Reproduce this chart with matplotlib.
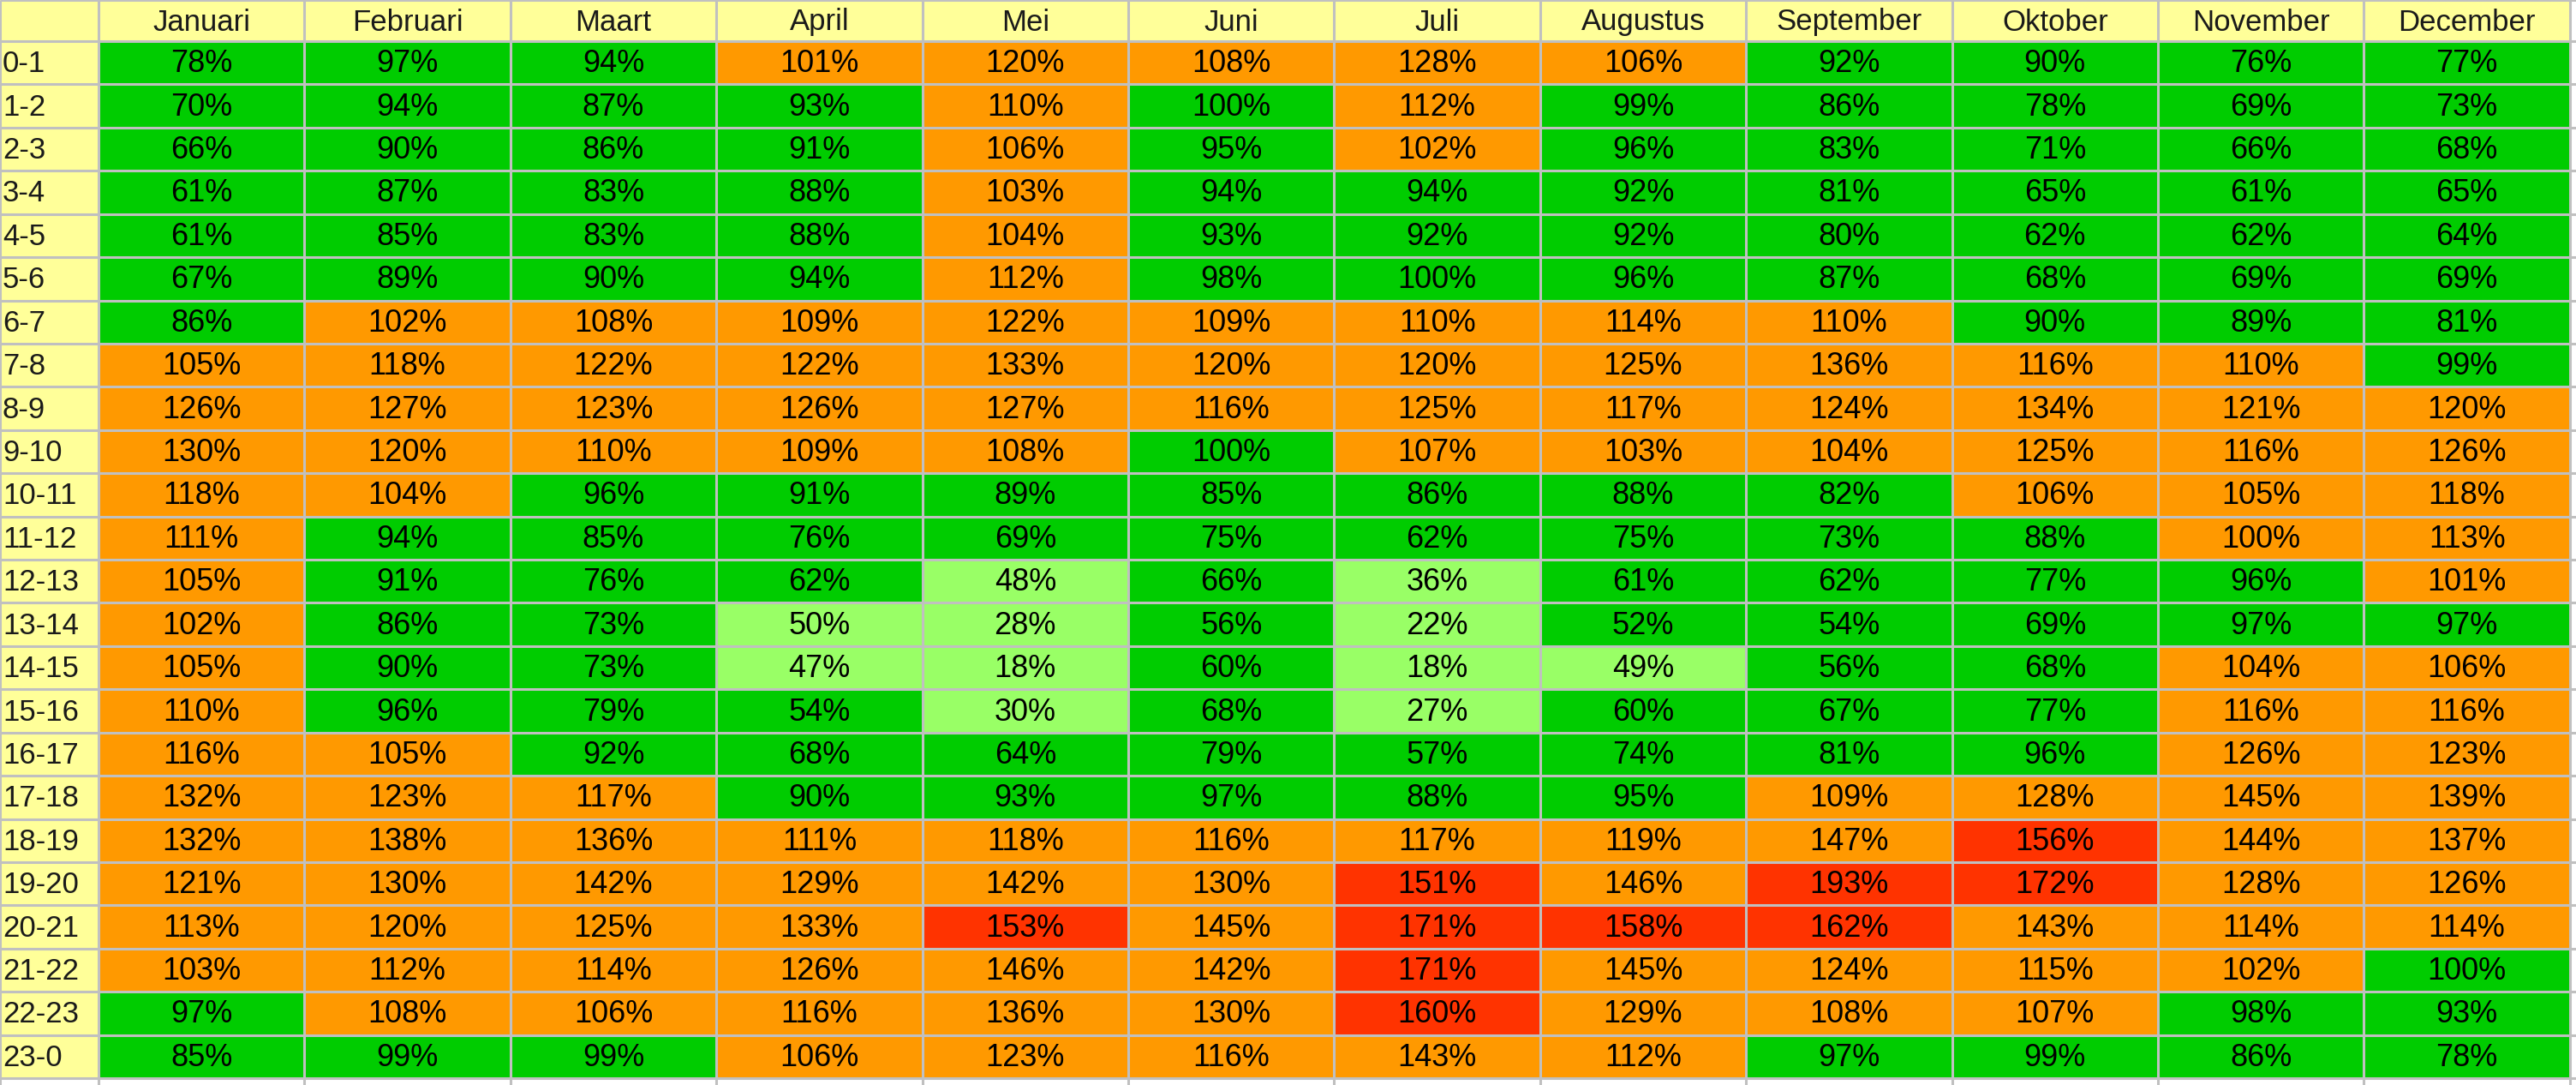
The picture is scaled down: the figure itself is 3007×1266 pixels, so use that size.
import numpy as np
import matplotlib
matplotlib.use('Agg')
import matplotlib.pyplot as plt
from matplotlib.colors import ListedColormap, BoundaryNorm
from matplotlib.patches import Rectangle

# data
months = ['Januari', 'Februari', 'Maart', 'April', 'Mei', 'Juni', 'Juli',
          'Augustus', 'September', 'Oktober', 'November', 'December']
hours = ['0-1', '1-2', '2-3', '3-4', '4-5', '5-6', '6-7', '7-8', '8-9', '9-10',
         '10-11', '11-12', '12-13', '13-14', '14-15', '15-16', '16-17', '17-18',
         '18-19', '19-20', '20-21', '21-22', '22-23', '23-0']
values = np.array([
    [78, 97, 94, 101, 120, 108, 128, 106, 92, 90, 76, 77],
    [70, 94, 87, 93, 110, 100, 112, 99, 86, 78, 69, 73],
    [66, 90, 86, 91, 106, 95, 102, 96, 83, 71, 66, 68],
    [61, 87, 83, 88, 103, 94, 94, 92, 81, 65, 61, 65],
    [61, 85, 83, 88, 104, 93, 92, 92, 80, 62, 62, 64],
    [67, 89, 90, 94, 112, 98, 100, 96, 87, 68, 69, 69],
    [86, 102, 108, 109, 122, 109, 110, 114, 110, 90, 89, 81],
    [105, 118, 122, 122, 133, 120, 120, 125, 136, 116, 110, 99],
    [126, 127, 123, 126, 127, 116, 125, 117, 124, 134, 121, 120],
    [130, 120, 110, 109, 108, 100, 107, 103, 104, 125, 116, 126],
    [118, 104, 96, 91, 89, 85, 86, 88, 82, 106, 105, 118],
    [111, 94, 85, 76, 69, 75, 62, 75, 73, 88, 100.4, 113],
    [105, 91, 76, 62, 48, 66, 36, 61, 62, 77, 96, 101],
    [102, 86, 73, 50, 28, 56, 22, 52, 54, 69, 97, 97],
    [105, 90, 73, 47, 18, 60, 18, 49, 56, 68, 104, 106],
    [110, 96, 79, 54, 30, 68, 27, 60, 67, 77, 116, 116],
    [116, 105, 92, 68, 64, 79, 57, 74, 81, 96, 126, 123],
    [132, 123, 117, 90, 93, 97, 88, 95, 109, 128, 145, 139],
    [132, 138, 136, 111, 118, 116, 117, 119, 147, 156, 144, 137],
    [121, 130, 142, 129, 142, 130, 151, 146, 193, 172, 128, 126],
    [113, 120, 125, 133, 153, 145, 171, 158, 162, 143, 114, 114],
    [103, 112, 114, 126, 146, 142, 171, 145, 124, 115, 102, 100],
    [97, 108, 106, 116, 136, 130, 160, 129, 108, 107, 98, 93],
    [85, 99, 99, 106, 123, 116, 143, 112, 97, 99, 86, 78],
])

# kleuren (voorwaardelijke opmaak)
cmap = ListedColormap(['#99FF66', '#00CC00', '#FF9900', '#FF3300'])
norm = BoundaryNorm([0, 50.5, 100.2, 150.5, 1000], cmap.N)

W, H = 3007, 1266
fig = plt.figure(figsize=(W / 100, H / 100), dpi=100)
ax = fig.add_axes([0, 0, 1, 1])
ax.set_xlim(0, W)
ax.set_ylim(H, 0)
ax.axis('off')

label_w, col_w = 115, 240.4
head_h, row_h = 48, 50.42
x_edges = np.concatenate([[0], label_w + col_w * np.arange(len(months) + 1)])
y_edges = np.concatenate([[0], head_h + row_h * np.arange(len(hours) + 1)])

# kop en eerste kolom geel
ax.add_patch(Rectangle((0, 0), x_edges[-1], head_h, color='#FFFF99', lw=0))
ax.add_patch(Rectangle((0, 0), label_w, y_edges[-1], color='#FFFF99', lw=0))

ax.pcolormesh(x_edges[1:], y_edges[1:], values, cmap=cmap, norm=norm)

ax.hlines(y_edges, 0, W, color='#C0C0C0', lw=2.2)
ax.vlines(x_edges, 0, H, color='#C0C0C0', lw=2.2)

font = 'Liberation Sans'
xc = (x_edges[1:-1] + x_edges[2:]) / 2
yc = (y_edges[1:-1] + y_edges[2:]) / 2

for j, m in enumerate(months):
    ax.text(xc[j], head_h / 2 + 2, m, ha='center', va='center',
            fontsize=25, family=font, color='#1a1a1a')

for i, h in enumerate(hours):
    ax.text(3, yc[i] + 1.5, h, ha='left', va='center',
            fontsize=25, family=font, color='#1a1a1a')
    for j in range(len(months)):
        ax.text(xc[j], yc[i] + 1.5, f'{values[i, j]:.0f}%', ha='center', va='center',
                fontsize=26, family=font, color='black')

fig.savefig('out.png', dpi=100)
